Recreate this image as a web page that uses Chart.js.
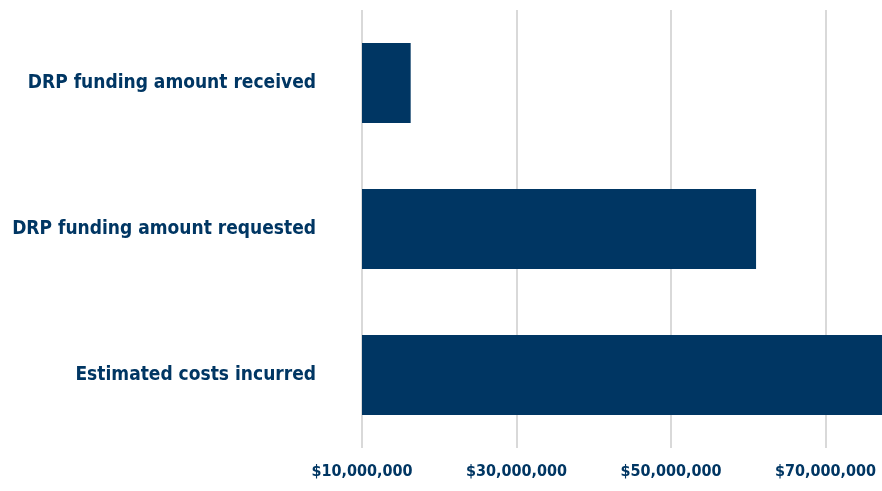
<!DOCTYPE html>
<html>
<head>
<meta charset="utf-8">
<script src="https://cdn.jsdelivr.net/npm/chart.js@4"></script>
<style>
html,body{margin:0;padding:0;background:#fff;}
#wrap{width:882px;height:491px;}
</style>
</head>
<body>
<div id="wrap"><canvas id="c" width="882" height="491"></canvas></div>
<script>
const categories = ["DRP funding amount received", "DRP funding amount requested", "Estimated costs incurred"];
const values = [16300000, 61000000, 80000000];
const tickValues = [10000000, 30000000, 50000000, 70000000];
const axisMin = 10000000;
const axisMax = 77300000;

const navy = "#003663";
const fontFamily = "'DejaVu Sans Condensed', 'Liberation Sans Narrow', sans-serif";

new Chart(document.getElementById("c"), {
  type: "bar",
  data: {
    labels: categories,
    datasets: [{
      data: values,
      backgroundColor: navy,
      borderWidth: 0,
      barPercentage: 0.548,
      categoryPercentage: 1.0
    }]
  },
  options: {
    indexAxis: "y",
    responsive: false,
    animation: false,
    layout: { padding: { top: 10, right: 0, left: 0, bottom: 0 } },
    plugins: { legend: { display: false }, tooltip: { enabled: false } },
    scales: {
      x: {
        min: axisMin,
        max: axisMax,
        afterBuildTicks: (scale) => { scale.ticks = tickValues.map(v => ({ value: v })); },
        afterFit: (scale) => { scale.height = 43; scale.paddingLeft = 0; scale.paddingRight = 0; },
        grid: { color: "#d9d9d9", lineWidth: 2, drawTicks: false },
        border: { display: false },
        ticks: {
          color: navy,
          padding: 14,
          maxRotation: 0,
          autoSkip: false,
          font: { family: fontFamily, size: 16, weight: "bold" },
          callback: (v) => "$" + Number(v).toLocaleString("en-US")
        }
      },
      y: {
        afterFit: (scale) => { scale.width = 362; scale.paddingTop = 0; scale.paddingBottom = 0; },
        grid: { display: false, drawTicks: false },
        border: { display: false },
        ticks: {
          color: navy,
          padding: 46,
          font: { family: fontFamily, size: 19, weight: "bold" }
        }
      }
    }
  }
});
</script>
</body>
</html>
